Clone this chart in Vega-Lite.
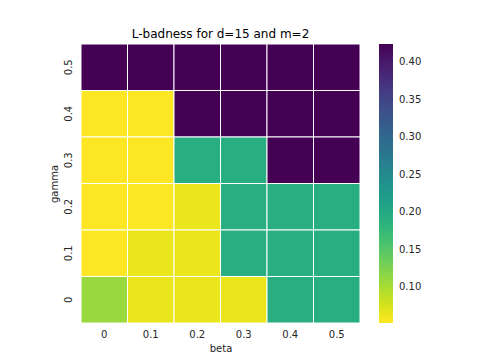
{
  "$schema": "https://vega.github.io/schema/vega-lite/v6.json",
  "autosize": "none",
  "width": 279,
  "height": 279,
  "padding": {"left": 81, "top": 44, "right": 124, "bottom": 40},
  "config": {"font": "DejaVu Sans", "view": {"stroke": null}},
  "title": {"text": "L-badness for d=15 and m=2", "fontSize": 12, "fontWeight": "normal", "color": "#000000", "offset": 3},
  "data": {"values": [
    {"beta": "0", "gamma": "0.5", "v": 0.424}, {"beta": "0.1", "gamma": "0.5", "v": 0.424}, {"beta": "0.2", "gamma": "0.5", "v": 0.424}, {"beta": "0.3", "gamma": "0.5", "v": 0.424}, {"beta": "0.4", "gamma": "0.5", "v": 0.424}, {"beta": "0.5", "gamma": "0.5", "v": 0.424},
    {"beta": "0", "gamma": "0.4", "v": 0.052}, {"beta": "0.1", "gamma": "0.4", "v": 0.052}, {"beta": "0.2", "gamma": "0.4", "v": 0.424}, {"beta": "0.3", "gamma": "0.4", "v": 0.424}, {"beta": "0.4", "gamma": "0.4", "v": 0.424}, {"beta": "0.5", "gamma": "0.4", "v": 0.424},
    {"beta": "0", "gamma": "0.3", "v": 0.052}, {"beta": "0.1", "gamma": "0.3", "v": 0.052}, {"beta": "0.2", "gamma": "0.3", "v": 0.192}, {"beta": "0.3", "gamma": "0.3", "v": 0.192}, {"beta": "0.4", "gamma": "0.3", "v": 0.424}, {"beta": "0.5", "gamma": "0.3", "v": 0.424},
    {"beta": "0", "gamma": "0.2", "v": 0.052}, {"beta": "0.1", "gamma": "0.2", "v": 0.052}, {"beta": "0.2", "gamma": "0.2", "v": 0.063}, {"beta": "0.3", "gamma": "0.2", "v": 0.192}, {"beta": "0.4", "gamma": "0.2", "v": 0.192}, {"beta": "0.5", "gamma": "0.2", "v": 0.192},
    {"beta": "0", "gamma": "0.1", "v": 0.052}, {"beta": "0.1", "gamma": "0.1", "v": 0.063}, {"beta": "0.2", "gamma": "0.1", "v": 0.063}, {"beta": "0.3", "gamma": "0.1", "v": 0.192}, {"beta": "0.4", "gamma": "0.1", "v": 0.192}, {"beta": "0.5", "gamma": "0.1", "v": 0.192},
    {"beta": "0", "gamma": "0", "v": 0.108}, {"beta": "0.1", "gamma": "0", "v": 0.063}, {"beta": "0.2", "gamma": "0", "v": 0.063}, {"beta": "0.3", "gamma": "0", "v": 0.063}, {"beta": "0.4", "gamma": "0", "v": 0.192}, {"beta": "0.5", "gamma": "0", "v": 0.192}
  ]},
  "mark": {"type": "rect", "stroke": "#ffffff", "strokeWidth": 1},
  "encoding": {
    "x": {"field": "beta", "type": "ordinal", "sort": ["0", "0.1", "0.2", "0.3", "0.4", "0.5"],
      "scale": {"paddingInner": 0, "paddingOuter": 0},
      "axis": {"title": "beta", "labelAngle": 0, "labelFontSize": 10, "titleFontSize": 10, "titleFontWeight": "normal", "labelColor": "#262626", "titleColor": "#262626", "domain": false, "ticks": false, "labelPadding": 6, "titlePadding": 4}},
    "y": {"field": "gamma", "type": "ordinal", "sort": ["0.5", "0.4", "0.3", "0.2", "0.1", "0"],
      "scale": {"paddingInner": 0, "paddingOuter": 0},
      "axis": {"title": "gamma", "labelAngle": -90, "labelAlign": "center", "labelBaseline": "bottom", "labelFontSize": 10, "titleFontSize": 10, "titleFontWeight": "normal", "labelColor": "#262626", "titleColor": "#262626", "domain": false, "ticks": false, "labelPadding": 8, "titlePadding": 4}},
    "color": {"field": "v", "type": "quantitative",
      "scale": {"scheme": "viridis", "reverse": true, "nice": false, "zero": false, "domain": [0.052, 0.424]},
      "legend": {"title": null, "orient": "none", "legendX": 298, "legendY": 0, "direction": "vertical", "gradientLength": 279, "gradientThickness": 14, "values": [0.1, 0.15, 0.2, 0.25, 0.3, 0.35, 0.4], "format": ".2f", "labelFontSize": 10, "labelColor": "#262626", "labelOffset": 6, "gradientStrokeWidth": 0, "padding": 0}}
  }
}
